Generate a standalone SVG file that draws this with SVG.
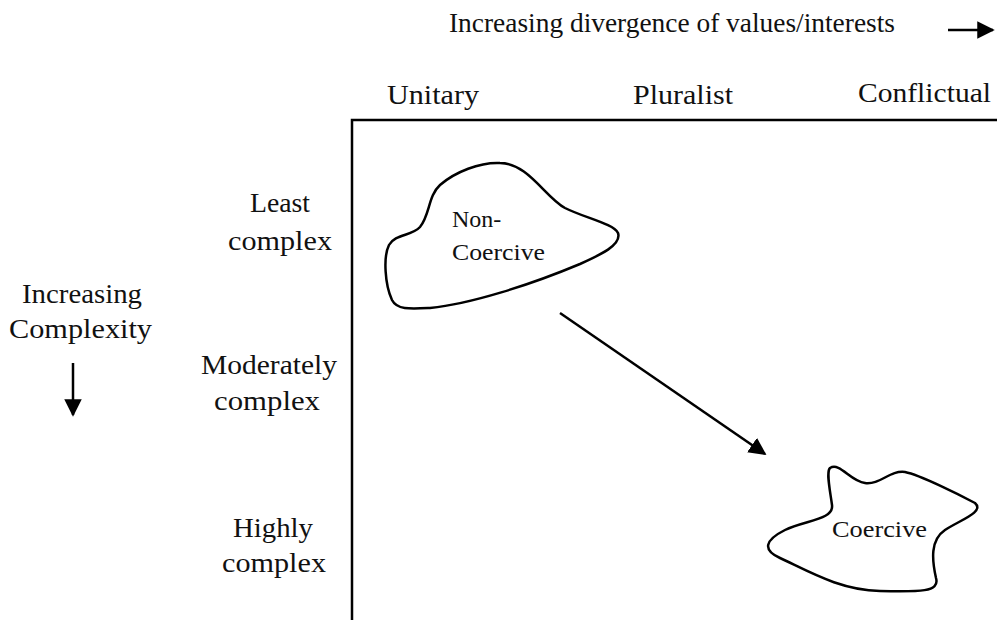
<svg xmlns="http://www.w3.org/2000/svg" width="997" height="622" viewBox="0 0 997 622">
  <style>
    .lbl { font-family: "Liberation Serif", "Times New Roman", serif; font-size: 27px; fill: #111; }
    .node-text { font-family: "Liberation Serif", "Times New Roman", serif; font-size: 24px; fill: #111; }
    .blob { fill: none; stroke: #000; stroke-width: 2.5; stroke-linejoin: round; }
    .axis { stroke: #000; stroke-width: 2.5; fill: none; }
    .conn { stroke: #000; stroke-width: 2.5; fill: none; }
  </style>
  <defs>
    <marker id="head" viewBox="0 0 10 10" refX="9" refY="5" markerWidth="7" markerHeight="7" markerUnits="strokeWidth" orient="auto">
      <path d="M0,0 L10,5 L0,10 Z" fill="#000"/>
    </marker>
  </defs>

  <!-- axes -->
  <g id="axes">
    <path class="axis" d="M352,620 L352,120 L997,120"/>
  </g>

  <!-- axis labels -->
  <g id="labels">
    <text class="lbl" x="449" y="32" textLength="446" lengthAdjust="spacingAndGlyphs">Increasing divergence of values/interests</text>
    <text class="lbl" x="387" y="104" textLength="92" lengthAdjust="spacingAndGlyphs">Unitary</text>
    <text class="lbl" x="633" y="104" textLength="100" lengthAdjust="spacingAndGlyphs">Pluralist</text>
    <text class="lbl" x="858" y="102" textLength="133" lengthAdjust="spacingAndGlyphs">Conflictual</text>

    <text class="lbl" x="250" y="212" textLength="60" lengthAdjust="spacingAndGlyphs">Least</text>
    <text class="lbl" x="228" y="250" textLength="104" lengthAdjust="spacingAndGlyphs">complex</text>
    <text class="lbl" x="201" y="374" textLength="136" lengthAdjust="spacingAndGlyphs">Moderately</text>
    <text class="lbl" x="214" y="410" textLength="106" lengthAdjust="spacingAndGlyphs">complex</text>
    <text class="lbl" x="233" y="537" textLength="80" lengthAdjust="spacingAndGlyphs">Highly</text>
    <text class="lbl" x="222" y="572" textLength="104" lengthAdjust="spacingAndGlyphs">complex</text>

    <text class="lbl" x="22" y="303" textLength="120" lengthAdjust="spacingAndGlyphs">Increasing</text>
    <text class="lbl" x="9" y="338" textLength="143" lengthAdjust="spacingAndGlyphs">Complexity</text>
  </g>

  <!-- nodes -->
  <g id="node-noncoercive">
    <path class="blob" d="M500,163 C480,162 455,172 440,185 C428,196 430,215 420,227 C412,236 395,234 389,245 C383,257 385,285 392,300 C397,310 410,309 430,308 C470,304 530,285 580,264 C600,255 622,245 618,233 C614,224 585,218 565,208 C545,197 528,163 500,163 Z"/>
    <text class="node-text" x="452" y="227">Non-</text>
    <text class="node-text" x="452" y="260" textLength="93" lengthAdjust="spacingAndGlyphs">Coercive</text>
  </g>

  <g id="node-coercive">
    <path class="blob" d="M830,468 C826,472 830,490 832,505 C834,520 805,520 785,530 C765,540 762,550 780,558 C810,572 840,590 880,591 C920,592 940,592 936,578 C932,560 930,540 945,530 C960,520 985,512 975,503 C960,495 920,475 905,472 C890,470 880,485 865,483 C850,481 840,462 830,468 Z"/>
    <text class="node-text" x="832" y="537" textLength="95" lengthAdjust="spacingAndGlyphs">Coercive</text>
  </g>

  <!-- connectors -->
  <g id="connectors">
    <line class="conn" x1="560" y1="313" x2="765" y2="454" marker-end="url(#head)"/>
    <line class="conn" x1="948" y1="30" x2="993" y2="30" marker-end="url(#head)"/>
    <line class="conn" x1="73" y1="363" x2="73" y2="415" marker-end="url(#head)"/>
  </g>
</svg>
